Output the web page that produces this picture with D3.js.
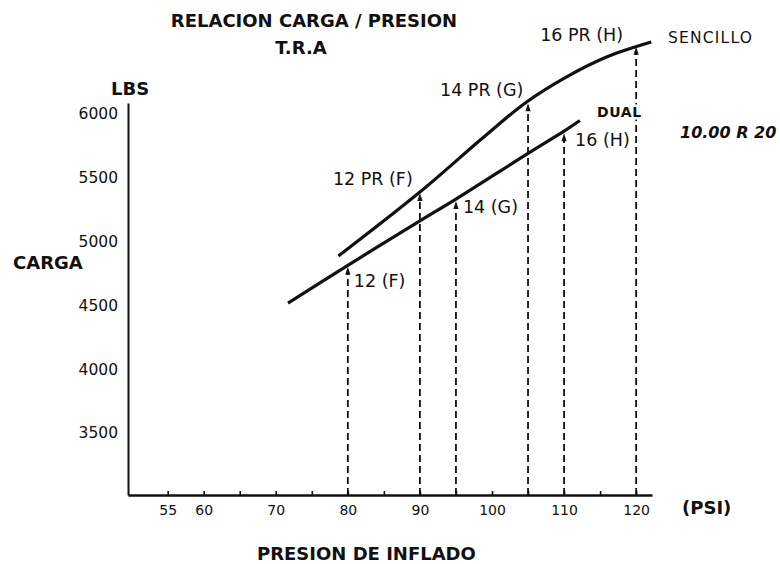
<!DOCTYPE html>
<html>
<head>
<meta charset="utf-8">
<script src="https://cdn.jsdelivr.net/npm/d3@7"></script>
<style>
  body { margin: 0; background: #fff; }
  svg text { font-family: "DejaVu Sans", sans-serif; fill: #111; }
</style>
</head>
<body>
<script>
// values
let xTicks = [55, 60, 65, 70, 75, 80, 85, 90, 95, 100, 105, 110, 115, 120];
let xLabels = [55, 60, 70, 80, 90, 100, 110, 120];
let yTicks = [3500, 4000, 4500, 5000, 5500, 6000];

// SENCILLO curve (psi, lbs)
let sencilloPsi = [78.7, 90, 98.7, 104.8, 110.3, 115.9, 122.1];
let sencilloLbs = [4885, 5385, 5808, 6090, 6285, 6442, 6559];

// DUAL line (psi, lbs)
let dualPsi = [71.7, 80, 90, 95, 105, 110, 112.2];
let dualLbs = [4517, 4812, 5160, 5330, 5688, 5862, 5945];

// dashed arrows up from the pressure axis, and their labels
let arrowPsi = [80, 90, 95, 105, 110, 120];
let arrowLbs = [4800, 5378, 5315, 6080, 5845, 6522];
let arrowText = ["12 (F)", "12 PR (F)", "14 (G)", "14 PR (G)", "16 (H)", "16 PR (H)"];

let w = 780, h = 564;
// label offsets from the arrow tip, in px
let labelOff = [[6, 20], [-87, -8], [7, 12], [-88, -7], [11, 13], [-96, -6]];

let x = d3.scaleLinear().domain([49.5, 122.2]).range([128, 652]);
let y = d3.scaleLinear().domain([3015, 6082]).range([495, 103]);

let svg = d3.select("body").append("svg")
  .attr("width", w)
  .attr("height", h);

// titles
function bold(tx, ty, str, anchor) {
  svg.append("text")
    .attr("x", tx).attr("y", ty)
    .attr("text-anchor", anchor || "start")
    .style("font-weight", "bold").style("font-size", "18px")
    .text(str);
}
bold(314, 27, "RELACION CARGA / PRESION", "middle");
bold(301, 54, "T.R.A", "middle");
bold(111, 95, "LBS");
bold(13, 269, "CARGA");
bold(257, 560, "PRESION DE INFLADO");
bold(682, 514, "(PSI)");

// axes
let xAxis = d3.axisBottom(x)
  .tickValues(xTicks)
  .tickSizeInner(-4)
  .tickSizeOuter(0)
  .tickPadding(10)
  .tickFormat(d => xLabels.includes(d) ? d : "");

let gx = svg.append("g")
  .attr("transform", "translate(0," + y.range()[0] + ")")
  .call(xAxis);
gx.select(".domain").attr("stroke", "#111").attr("stroke-width", 2.5);
gx.selectAll(".tick line").attr("stroke", "#111").attr("stroke-width", 1.6);
gx.selectAll(".tick text")
  .style("font-size", "14px")
  .attr("fill", "#111");

let yAxis = d3.axisLeft(y)
  .tickValues(yTicks)
  .tickSize(0)
  .tickPadding(10)
  .tickFormat(d3.format("d"));

let gy = svg.append("g")
  .attr("transform", "translate(" + x.range()[0] + ",0)")
  .call(yAxis);
gy.select(".domain").attr("stroke", "#111").attr("stroke-width", 2);
gy.selectAll(".tick text")
  .style("font-size", "15.5px")
  .attr("fill", "#111");

// dashed arrows
let arrows = svg.append("g").attr("id", "arrows");
arrowPsi.forEach((p, i) => {
  let ax = x(p), ay = y(arrowLbs[i]);
  arrows.append("line")
    .attr("x1", ax).attr("x2", ax)
    .attr("y1", y.range()[0]).attr("y2", ay + 6)
    .attr("stroke", "#111")
    .attr("stroke-width", 1.8)
    .attr("stroke-dasharray", "7,4");
  arrows.append("path")
    .attr("d", "M" + ax + "," + ay + "L" + (ax - 2.6) + "," + (ay + 8) + "L" + (ax + 2.6) + "," + (ay + 8) + "Z")
    .attr("fill", "#111");
  svg.append("text")
    .attr("x", ax + labelOff[i][0])
    .attr("y", ay + labelOff[i][1])
    .style("font-size", "17.5px")
    .text(arrowText[i]);
});

// curves
let line = d3.line()
  .x(d => x(d[0]))
  .y(d => y(d[1]))
  .curve(d3.curveCatmullRom);

svg.append("path")
  .datum(sencilloPsi.map((p, i) => [p, sencilloLbs[i]]))
  .attr("d", line)
  .attr("fill", "none")
  .attr("stroke", "#111")
  .attr("stroke-width", 3.2);

svg.append("path")
  .datum(dualPsi.map((p, i) => [p, dualLbs[i]]))
  .attr("d", line)
  .attr("fill", "none")
  .attr("stroke", "#111")
  .attr("stroke-width", 3.2);

svg.append("text")
  .attr("x", 668).attr("y", 43)
  .style("font-size", "15.5px")
  .style("letter-spacing", "1.2px")
  .text("SENCILLO");

svg.append("text")
  .attr("x", 597).attr("y", 117)
  .style("font-size", "14px")
  .style("font-weight", "bold")
  .style("letter-spacing", "0.6px")
  .attr("stroke", "#fff")
  .attr("stroke-width", 5)
  .style("paint-order", "stroke")
  .text("DUAL");

svg.append("text")
  .attr("x", 680).attr("y", 138)
  .style("font-size", "16px")
  .style("font-weight", "bold")
  .style("font-style", "italic")
  .text("10.00 R 20");
</script>
</body>
</html>
